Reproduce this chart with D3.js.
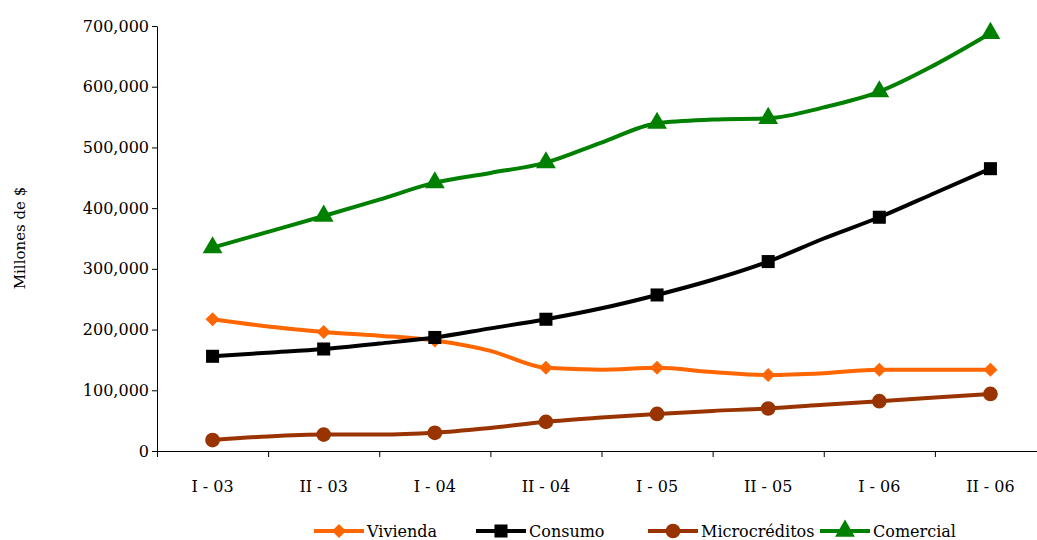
<!DOCTYPE html>
<html><head><meta charset="utf-8">
<script src="https://cdn.jsdelivr.net/npm/d3@7"></script>
<style>body{margin:0;background:#fff}text{font-family:"DejaVu Serif",serif;}</style>
</head><body>
<script>
var categories = ["I - 03","II - 03","I - 04","II - 04","I - 05","II - 05","I - 06","II - 06"];
// values every half semester (index step 0.5), markers on whole steps
var vivienda = [217,205,196,190,182,165,137,134,137,130,125,128,134,134,134];
var consumo = [156,162,168,177,187,202,217,235,257,282,312,350,385,425,465];
var micro = [18,24,27,27,30,38,48,55,61,66,70,76,82,88,94];
var comercial = [335,361,387,414,442,458,475,508,540,546,548,566,592,636,688];
var yTicks = [0,100000,200000,300000,400000,500000,600000,700000];

var series = [
  {name:"Vivienda", values:vivienda, color:"#ff6600", marker:"diamond"},
  {name:"Consumo", values:consumo, color:"#000000", marker:"square"},
  {name:"Microcréditos", values:micro, color:"#993300", marker:"circle"},
  {name:"Comercial", values:comercial, color:"#008000", marker:"triangle"}
];

var svg = d3.select("body").append("svg").attr("width",1037).attr("height",540);
var x = d3.scaleLinear().domain([-0.5,7.5]).range([157,1046]);
var y = d3.scaleLinear().domain([0,700000]).range([451,26]);

svg.append("g").attr("transform","translate(157,0)")
  .call(d3.axisLeft(y).tickValues(yTicks).tickFormat(d3.format(",")).tickSize(5).tickSizeOuter(0))
  .call(g=>g.selectAll("text").attr("font-size",16).attr("fill","#000"))
  .call(g=>g.selectAll("line,path").attr("stroke","#000"));

svg.append("g").attr("transform","translate(0,451)")
  .call(d3.axisBottom(x).tickValues(d3.range(-0.5,8,1)).tickFormat("").tickSize(6).tickSizeOuter(0))
  .call(g=>g.selectAll("line,path").attr("stroke","#000"));
svg.append("g").selectAll("text").data(categories).join("text")
  .attr("x",(d,i)=>x(i)).attr("y",492).attr("text-anchor","middle").attr("font-size",16).text(d=>d);

svg.append("text").attr("transform","translate(25,238) rotate(-90)").attr("text-anchor","middle")
  .attr("font-size",15).text("Millones de $");

var line = d3.line().x((d,i)=>x(i/2)).y(d=>y(d*1000)).curve(d3.curveMonotoneX);
function sym(type){
  if (type=="diamond") return "M0,-7L7,0L0,7L-7,0Z";
  var t = {square:d3.symbolSquare,circle:d3.symbolCircle,triangle:d3.symbolTriangle}[type];
  return d3.symbol().type(t).size(170)();
}
series.forEach(function(s){
  svg.append("path").attr("d",line(s.values)).attr("fill","none").attr("stroke",s.color).attr("stroke-width",4);
  svg.append("g").selectAll("path").data(s.values.filter((d,i)=>i%2==0)).join("path")
    .attr("transform",(d,i)=>`translate(${x(i)},${y(d*1000)})`)
    .attr("d",sym(s.marker)).attr("fill",s.color);
});

var lx = [314,476,648,820];
series.forEach(function(s,i){
  var g = svg.append("g").attr("transform",`translate(${lx[i]},531)`);
  g.append("line").attr("x1",0).attr("x2",50).attr("stroke",s.color).attr("stroke-width",4);
  g.append("path").attr("transform","translate(25,0)").attr("d",sym(s.marker)).attr("fill",s.color);
  g.append("text").attr("x",53).attr("y",6).attr("font-size",16).text(s.name);
});
</script>
</body></html>
